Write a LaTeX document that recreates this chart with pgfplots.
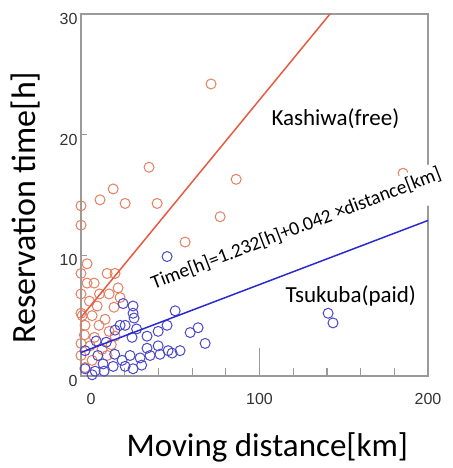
\documentclass[border=0pt]{standalone}
\usepackage{fontspec}
\setmainfont{Carlito}
\newfontfamily\tickfont{Liberation Sans}
\usepackage{pgfplots}
\pgfplotsset{compat=1.18}
\definecolor{kred}{HTML}{E4805F}
\definecolor{kline}{HTML}{E85A40}
\definecolor{tblue}{HTML}{4A48C8}
\definecolor{tline}{HTML}{2A2AD0}
\definecolor{framegray}{HTML}{9A9A9A}

\begin{document}
\begin{tikzpicture}
\path[use as bounding box] (-81pt,-92pt) rectangle (371pt,376pt);
\begin{axis}[scale only axis, width=347pt, height=362pt,
  xmin=-6, xmax=200, ymin=0, ymax=30, clip=false, clip marker paths=true,
  axis line style={framegray, line width=1.2pt},
  xtick={0,100,200}, ytick={0,10,20,30},
  major tick length=0pt,
  /pgf/number format/assume math mode=true,
  tick label style={font=\tickfont\fontsize{16}{16}\selectfont, text=black!80},
  x tick label style={yshift=-14pt},
  y tick label style={yshift=-5pt},
  xlabel={Moving distance[km]},
  xlabel style={font=\fontsize{33}{33}\selectfont, at={(rel axis cs:0.537,-0.196)}, anchor=center},
  ylabel={Reservation time[h]},
  ylabel style={font=\fontsize{34}{34}\selectfont, at={(rel axis cs:-0.16,0.465)}, anchor=center},
]
% ruler-like ticks
\draw[framegray, line width=1.2pt]
  (axis cs:20,0) -- ([yshift=8pt]axis cs:20,0)
  (axis cs:40,0) -- ([yshift=8pt]axis cs:40,0)
  (axis cs:60,0) -- ([yshift=8pt]axis cs:60,0)
  (axis cs:80,0) -- ([yshift=8pt]axis cs:80,0)
  (axis cs:120,0) -- ([yshift=8pt]axis cs:120,0)
  (axis cs:140,0) -- ([yshift=8pt]axis cs:140,0)
  (axis cs:160,0) -- ([yshift=8pt]axis cs:160,0)
  (axis cs:180,0) -- ([yshift=8pt]axis cs:180,0)
  (axis cs:100,0) -- ([yshift=28pt]axis cs:100,0)
  (axis cs:-6,10) -- ([xshift=6pt]axis cs:-6,10)
  (axis cs:-6,20) -- ([xshift=6pt]axis cs:-6,20);
% Kashiwa (free)
\addplot[only marks, mark=o, mark size=5pt, kred, mark options={line width=1pt}] coordinates {
(71.2,24.2) (34.4,17.3) (86.1,16.3) (13.1,15.5) (5.3,14.6) (20.2,14.3) (39.2,14.3)
(-6,14.1) (-6,12.5) (185.2,16.8) (76.6,13.2) (55.8,11.1) (88.4,11.0)
(-2.4,9.3) (-6,8.5) (-2.4,7.7) (1.8,7.7) (9.5,8.5) (14.2,8.5)
(-6,6.8) (10.7,6.8) (17.2,6.5) (3.6,5.8) (13.6,5.7) (-6,5.2)
(-5.3,5.0) (0.6,5.0) (8.3,4.7) (-3.6,4.2) (4.7,4.2) (10.7,3.7) (14.2,3.3)
(-6,2.7) (-0.6,2.5) (6.5,2.2) (-6,1.7) (0.6,1.3) (9.5,1.7) (-3.6,0.7)
(-1.0,6.2) (5.0,6.8) (2.0,3.2) (12.0,2.6) (-4.0,3.4) (16.0,7.3)
};
% Tsukuba (paid)
\addplot[only marks, mark=o, mark size=5pt, tblue, mark options={line width=1pt}] coordinates {
(45.1,9.9) (19.0,6.0) (24.9,5.8) (24.9,5.2) (25.5,4.8) (17.2,4.2) (14.2,3.8) (20.2,4.2)
(24.3,3.2) (33.2,3.3) (39.8,3.7) (45.1,4.2) (49.9,5.4) (33.2,2.3) (39.8,2.5)
(23.1,1.7) (29.1,1.5) (35.0,1.7) (40.9,1.8) (45.7,2.1) (7.1,1.0) (13.1,0.8)
(20.2,0.8) (24.9,0.6) (2.4,0.4) (-3.6,0.6) (0.6,0.1) (7.7,0.4) (18.4,1.3)
(48.1,1.9) (52.8,2.1) (58.8,3.6) (63.5,4.0) (67.7,2.7) (140.7,5.2) (143.6,4.4)
(-3.6,2.1) (3.0,2.9) (9.0,2.8) (14.0,1.8) (27.0,3.9) (30.0,0.9) (4.0,1.7)
};
% white band with the fitted equation
\addplot[draw=none, forget plot] coordinates {(34,7.0)}
  node[fill=white, rotate=21, anchor=base west, inner xsep=6pt, inner ysep=4pt, text depth=16pt,
  font=\fontsize{19.5}{20}\selectfont]
  {Time[h]=1.232[h]+0.042 \texttimes distance[km]};
\addplot[kline, line width=1.5pt] coordinates {(-6,4.86) (141.8,30)};
\addplot[tline, line width=1.5pt] coordinates {(-6,1.95) (200,12.89)};
\node[anchor=base west, font=\fontsize{23}{23}\selectfont] at (axis cs:105,20.8) {Kashiwa(free)};
\node[anchor=base west, font=\fontsize{23}{23}\selectfont] at (axis cs:113.4,6.07) {Tsukuba(paid)};
\end{axis}
\end{tikzpicture}
\end{document}
